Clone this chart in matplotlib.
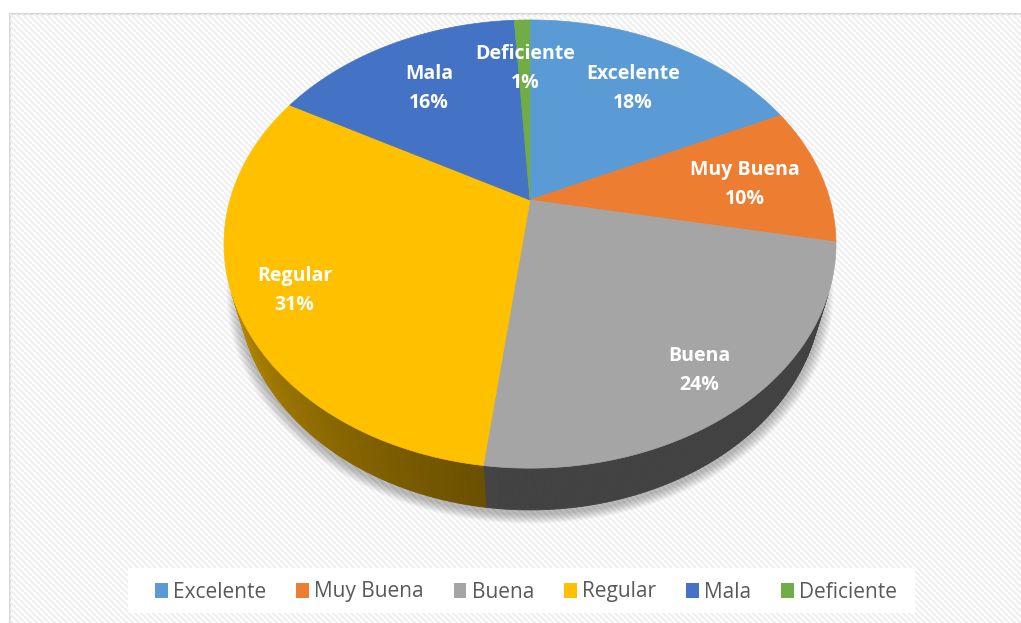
import matplotlib.pyplot as plt
import numpy as np
from matplotlib.patches import Polygon, Rectangle, Patch

# Data
categories = ['Excelente', 'Muy Buena', 'Buena', 'Regular', 'Mala', 'Deficiente']
percentages = [18, 10, 24, 31, 16, 1]
colors = ['#5B9BD5', '#ED7D31', '#A5A5A5', '#FFC000', '#4472C4', '#70AD47']

# 3D pie geometry (pixel space)
CX, CY = 530, 200          # pie centre on screen
S = 300                    # radius scale
alpha = np.radians(45.9)   # view elevation
sa, ca = np.sin(alpha), np.cos(alpha)
D = 3.54                   # perspective distance
H = 0.23                   # thickness
label_r = [0.71, 0.73, 0.83, 0.82, 0.71, 0.72]


def proj(phi_deg, r=1.0, z=0.0):
    p = np.radians(phi_deg)
    X = r * np.sin(p)
    Y = r * np.cos(p)
    v = Y * sa + z * ca
    w = -Y * ca + z * sa
    f = D / (D - w)
    return CX + S * X * f, CY - S * v * f


def shade(hex_color, fac):
    c = np.array([int(hex_color[i:i + 2], 16) for i in (1, 3, 5)]) / 255.0
    return tuple(np.clip(c * fac, 0, 1))


fig = plt.figure(figsize=(10.21, 6.23), dpi=100, facecolor='white')
ax = fig.add_axes([0, 0, 1, 1])
ax.set_xlim(0, 1021)
ax.set_ylim(623, 0)
ax.axis('off')

# chart frame with diagonal stripe pattern
frame = Rectangle((9.5, 13.5), 1030, 630, facecolor='white',
                  edgecolor='#D9D9D9', linewidth=1.5, zorder=0)
ax.add_patch(frame)
for x0 in np.arange(-700, 1100, 6):
    ln, = ax.plot([x0, x0 + 700], [0, 700], color='#EFEFEF', lw=1.5,
                  zorder=0.5, solid_capstyle='butt')
    ln.set_clip_path(frame)

# soft shadow below the pie
phis = np.linspace(0, 360, 361)
bx, by = proj(phis, 1.0, -H)
ecx, ecy = bx.mean(), by.mean()
for k in range(12, 0, -1):
    sc = 1 + k / 300.0
    ax.add_patch(Polygon(np.column_stack([ecx + (bx - ecx) * sc,
                                          ecy + (by - ecy) * sc + 4]),
                         closed=True, facecolor='black', edgecolor='none',
                         alpha=0.022, zorder=1))

# slice angles (clockwise from the top)
vals = np.array(percentages, dtype=float)
bounds = np.concatenate([[0], np.cumsum(vals) / vals.sum() * 360])
phi_lo = np.degrees(np.arccos(-1.0 / (D * ca)))
phi_hi = 360 - phi_lo

# side walls
for i, col in enumerate(colors):
    a0 = max(bounds[i], phi_lo)
    a1 = min(bounds[i + 1], phi_hi)
    if a1 <= a0:
        continue
    steps = np.linspace(a0, a1, int(np.ceil(a1 - a0)) + 1)
    for s0, s1 in zip(steps[:-1], steps[1:]):
        mid = 0.5 * (s0 + s1)
        fac = 0.40 + 0.30 * np.clip((mid - 183) / 63.0, 0, 1) ** 1.1
        tx0, ty0 = proj(s0)
        tx1, ty1 = proj(s1)
        bx0, by0 = proj(s0, 1.0, -H)
        bx1, by1 = proj(s1, 1.0, -H)
        ax.add_patch(Polygon([(tx0, ty0), (tx1, ty1), (bx1, by1), (bx0, by0)],
                             closed=True, facecolor=shade(col, fac),
                             edgecolor=shade(col, fac), linewidth=0.6, zorder=2))

# top faces
for i, col in enumerate(colors):
    arc = np.linspace(bounds[i], bounds[i + 1], max(int(bounds[i + 1] - bounds[i]) * 2, 4))
    ax_, ay_ = proj(arc)
    pts = np.column_stack([np.concatenate([[CX], ax_]), np.concatenate([[CY], ay_])])
    ax.add_patch(Polygon(pts, closed=True, facecolor=col, edgecolor=col,
                         linewidth=0.5, zorder=3))

# data labels
for i, (cat, pct) in enumerate(zip(categories, percentages)):
    mid = 0.5 * (bounds[i] + bounds[i + 1])
    lx, ly = proj(mid, label_r[i])
    ax.text(lx + 1, ly + 4, f'{cat}\n{pct}%', ha='center', va='center', color='white',
            fontsize=14, fontweight='bold', family='Open Sans',
            linespacing=1.6, zorder=5)

# legend
ax.add_patch(Rectangle((128, 568), 787, 45, facecolor='white',
                       edgecolor='none', zorder=4))
handles = [Patch(facecolor=c, edgecolor='none', label=l) for c, l in zip(colors, categories)]
leg = fig.legend(handles=handles, loc='center', bbox_to_anchor=(526 / 1021, 1 - 592 / 623),
                 ncol=6, frameon=False, handlelength=0.6, handleheight=0.7,
                 handletextpad=0.25, columnspacing=1.45,
                 prop={'family': 'Open Sans', 'size': 15})
for t in leg.get_texts():
    t.set_color('#595959')
leg.set_zorder(6)

fig.savefig('out.png', dpi=100, facecolor='white')
